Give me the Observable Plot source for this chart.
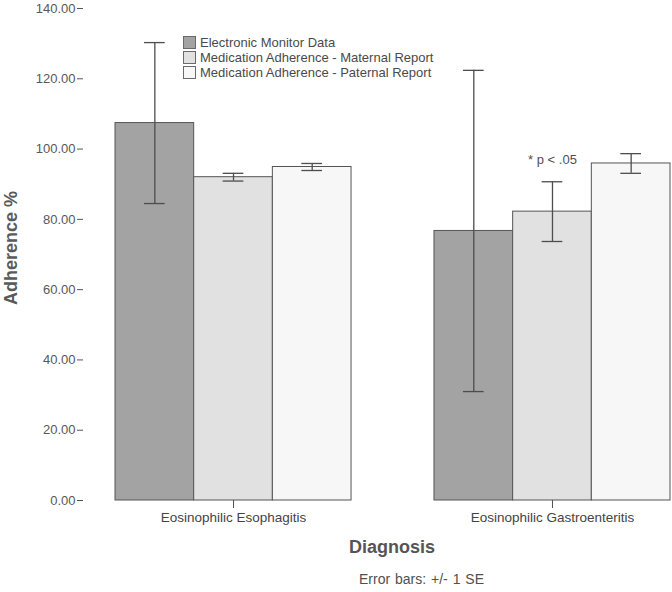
<!DOCTYPE html>
<html><head><meta charset="utf-8">
<script src="https://cdn.jsdelivr.net/npm/d3@7"></script>
<script src="https://cdn.jsdelivr.net/npm/@observablehq/plot@0.6"></script>
<style>
body{margin:0;background:#fff;font-family:"Liberation Sans",Arial,sans-serif;}
#wrap{position:relative;width:672px;height:592px;overflow:hidden;}
#legend{position:absolute;left:183px;top:35px;font-size:13px;color:#4a4a4a;line-height:15px;}
#legend .item{display:flex;align-items:center;white-space:nowrap;height:15px;}
#legend .sw{width:13px;height:13px;border:1px solid #6a6a6a;margin-right:4px;box-sizing:border-box;}
#caption{position:absolute;left:359px;top:571px;font-size:14px;color:#505050;white-space:nowrap;word-spacing:1px;}
#ylabel{position:absolute;left:11px;top:248px;transform:translate(-50%,-50%) rotate(-90deg);font-size:18px;font-weight:bold;color:#5a5a5a;white-space:nowrap;}
#xlabel{position:absolute;left:392px;top:537px;transform:translateX(-50%);font-size:18px;font-weight:bold;color:#555;white-space:nowrap;}
</style></head><body><div id="wrap"></div>
<script>
const diagnoses = ["Eosinophilic Esophagitis", "Eosinophilic Gastroenteritis"];
const series = ["Electronic Monitor Data", "Medication Adherence - Maternal Report", "Medication Adherence - Paternal Report"];
const meansEE = [107.4, 92.0, 94.9];
const meansEG = [76.7, 82.2, 95.9];
const seEE = [22.9, 1.1, 1.0];
const seEG = [45.7, 8.5, 2.8];
const colors = ["#a3a3a3", "#e1e1e1", "#f7f7f7"];
const yTicks = [0, 20, 40, 60, 80, 100, 120, 140];
const annotations = [{diagnosis: "Eosinophilic Gastroenteritis", series: "Medication Adherence - Maternal Report", y: 96.8, text: "* p < .05"}];
const yTitle = "Adherence %";
const xTitle = "Diagnosis";
const caption = "Error bars: +/- 1 SE";

const meansBy = [meansEE, meansEG];
const seBy = [seEE, seEG];
const data = diagnoses.flatMap((d, i) => series.map((s, j) => ({diagnosis: d, series: s, mean: meansBy[i][j], se: seBy[i][j]})));

const plot = Plot.plot({
  width: 672, height: 592,
  marginTop: 8, marginBottom: 92, marginLeft: 84, marginRight: 2,
  style: {fontFamily: "Liberation Sans, Arial, sans-serif", fontSize: "13px", color: "#505050", background: "#fff"},
  fx: {domain: diagnoses, paddingInner: 0.26, paddingOuter: 0.0486, align: 1, round: false},
  x: {domain: series, padding: 0, axis: null, round: false},
  y: {domain: [0, 140]},
  color: {domain: series, range: colors},
  marks: [
    Plot.barY(data, {fx: "diagnosis", x: "series", y: "mean", fill: "series", stroke: "#555", strokeWidth: 1}),
    Plot.ruleX(data, {fx: "diagnosis", x: "series", y1: d => d.mean - d.se, y2: d => d.mean + d.se, stroke: "#4d4d4d", strokeWidth: 1.3}),
    Plot.tickY(data, {fx: "diagnosis", x: "series", y: d => d.mean + d.se, stroke: "#4d4d4d", strokeWidth: 1.3, insetLeft: 29, insetRight: 29}),
    Plot.tickY(data, {fx: "diagnosis", x: "series", y: d => d.mean - d.se, stroke: "#4d4d4d", strokeWidth: 1.3, insetLeft: 29, insetRight: 29}),
    Plot.text(annotations, {fx: "diagnosis", x: "series", y: "y", text: "text", fill: "#505050", fontSize: 13}),
    Plot.axisY({ticks: yTicks, tickFormat: d => d.toFixed(2), dx: -32, tickSize: 6, tickPadding: 2, label: null, stroke: "#555", fill: "#585858", fontSize: 13}),
    Plot.axisFx({anchor: "bottom", tickSize: 8, tickPadding: 4, label: null, fill: "#444", fontSize: 13.5})
  ]
});
const wrap = document.getElementById("wrap");
wrap.appendChild(plot);

const legend = document.createElement("div");
legend.id = "legend";
series.forEach((s, i) => {
  const item = document.createElement("div");
  item.className = "item";
  const sw = document.createElement("span");
  sw.className = "sw";
  sw.style.background = colors[i];
  const t = document.createElement("span");
  t.textContent = s;
  item.appendChild(sw); item.appendChild(t);
  legend.appendChild(item);
});
wrap.appendChild(legend);

for (const [id, txt] of [["ylabel", yTitle], ["xlabel", xTitle], ["caption", caption]]) {
  const el = document.createElement("div");
  el.id = id;
  el.textContent = txt;
  wrap.appendChild(el);
}
</script>
</body></html>
